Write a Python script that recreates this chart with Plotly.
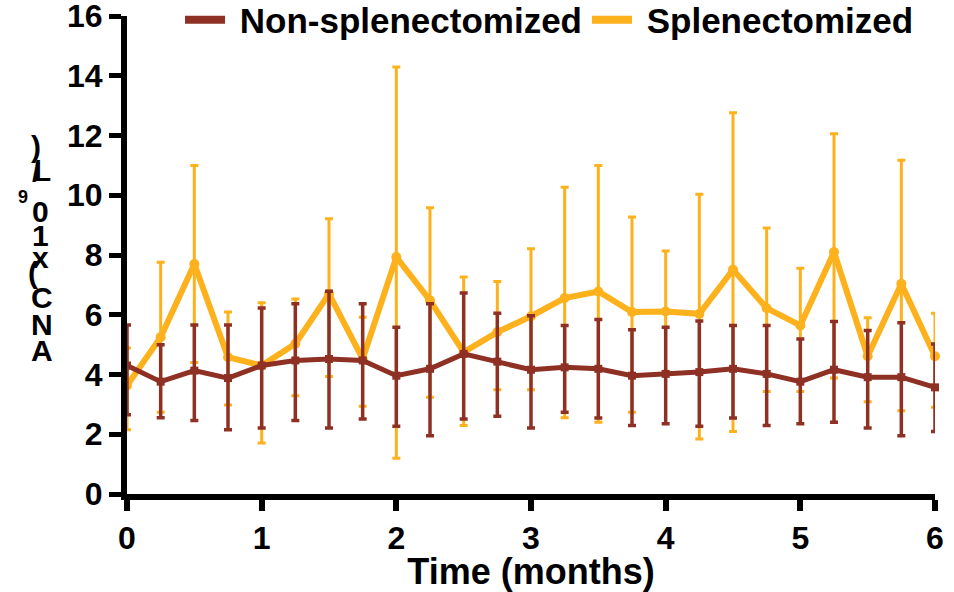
import plotly.graph_objects as go

# ---------------- data ----------------
time_months = [0, 0.25, 0.5, 0.75, 1, 1.25, 1.5, 1.75, 2, 2.25, 2.5, 2.75, 3,
               3.25, 3.5, 3.75, 4, 4.25, 4.5, 4.75, 5, 5.25, 5.5, 5.75, 6]

non_mean = [4.30, 3.76, 4.13, 3.88, 4.30, 4.47, 4.52, 4.47, 3.96, 4.19, 4.69, 4.43, 4.16,
            4.24, 4.19, 3.96, 4.02, 4.08, 4.19, 4.02, 3.76, 4.16, 3.91, 3.91, 3.57]
non_upper = [5.66, 5.00, 5.66, 5.66, 6.23, 6.37, 6.79, 6.37, 5.58, 6.37, 6.73, 6.05, 5.97,
             5.64, 5.84, 5.50, 5.58, 5.79, 5.64, 5.64, 5.19, 5.77, 5.47, 5.73, 5.02]
non_lower = [2.65, 2.55, 2.46, 2.15, 2.21, 2.46, 2.21, 2.51, 2.27, 1.95, 2.51, 2.60, 2.21,
             2.74, 2.54, 2.29, 2.35, 2.27, 2.54, 2.29, 2.35, 2.40, 2.21, 1.95, 2.09]

spl_mean = [3.63, 5.25, 7.70, 4.58, 4.30, 5.03, 6.70, 4.52, 7.93, 6.48, 4.75, 5.42, 5.95,
            6.56, 6.78, 6.09, 6.11, 6.03, 7.51, 6.22, 5.64, 8.10, 4.61, 7.04, 4.61]
spl_upper = [4.89, 7.76, 11.00, 6.09, 6.40, 6.53, 9.21, 5.92, 14.29, 9.58, 7.26, 7.11, 8.21,
             10.27, 11.00, 9.27, 8.13, 10.03, 12.76, 8.90, 7.56, 12.06, 5.90, 11.17, 6.05]
spl_lower = [2.15, 2.74, 4.40, 2.98, 1.71, 3.29, 3.93, 2.94, 1.20, 3.24, 2.29, 3.49, 3.49,
             2.55, 2.40, 2.74, 4.09, 1.84, 2.09, 3.43, 3.43, 3.88, 3.09, 2.79, 2.90]

x_ticks = [0, 1, 2, 3, 4, 5, 6]
y_ticks = [0, 2, 4, 6, 8, 10, 12, 14, 16]

BROWN = "#8E3024"
ORANGE = "#FDB11C"
FONT = "Arial, Liberation Sans, sans-serif"

fig = go.Figure()

def add_series(mean, upper, lower, color, lw, msym, msize, ethick):
    fig.add_trace(go.Scatter(
        x=time_months, y=mean, mode="lines+markers", showlegend=False,
        line=dict(color=color, width=lw),
        marker=dict(color=color, size=msize, symbol=msym),
        error_y=dict(type="data", symmetric=False,
                     array=[u - m for u, m in zip(upper, mean)],
                     arrayminus=[m - l for m, l in zip(mean, lower)],
                     color=color, thickness=ethick, width=4),
        cliponaxis=False,
    ))

# orange drawn first so the brown series sits on top (as in the reference)
add_series(spl_mean, spl_upper, spl_lower, ORANGE, 6, "circle", 10, 3)
add_series(non_mean, non_upper, non_lower, BROWN, 5, "square", 8, 3.5)

# legend entries: plain thick line symbols
for name, color in [("Non-splenectomized", BROWN), ("Splenectomized", ORANGE)]:
    fig.add_trace(go.Scatter(x=[None], y=[None], mode="lines", name="\u00a0" + name,
                             line=dict(color=color, width=8)))

L, R, T, B = 127, 19, 16, 98
W, H = 954, 592
pw, ph = W - L - R, H - T - B

def px(xp):
    return (xp - L) / pw

def py(yp):
    return (H - B - yp) / ph

# stacked y-axis title glyphs (as in the reference rendering)
glyphs = [(")", 36, 146, 30), ("/", 36, 172, 30), ("L", 42, 172, 28), ("9", 23, 197, 18),
          ("0", 40, 211, 30), ("1", 40, 235, 30), ("x", 40, 257, 30), ("(", 33, 272, 30),
          ("C", 42, 297, 30), ("N", 42, 324, 30), ("A", 42, 350, 30)]
annotations = [dict(text=f"<b>{g}</b>", x=px(gx), y=py(gy), xref="paper", yref="paper",
                    showarrow=False, xanchor="center", yanchor="middle",
                    font=dict(family=FONT, size=s, color="black"))
               for g, gx, gy, s in glyphs]

fig.update_layout(
    width=W, height=H,
    margin=dict(l=L, r=R, t=T, b=B, autoexpand=False),
    paper_bgcolor="white", plot_bgcolor="white",
    showlegend=True,
    legend=dict(orientation="h", xref="paper", yref="paper",
                x=px(180), y=py(20), xanchor="left", yanchor="middle",
                font=dict(family=FONT, size=35, color="black", weight="bold"),
                bgcolor="rgba(0,0,0,0)", itemwidth=40, traceorder="normal"),
    annotations=annotations,
    xaxis=dict(range=[0, 6], tickvals=x_ticks, ticktext=[str(v) for v in x_ticks],
               showline=True, linecolor="black", linewidth=6,
               ticks="outside", ticklen=11, tickwidth=6, tickcolor="black",
               showgrid=False, zeroline=False, automargin=False,
               ticklabeloverflow="allow",
               tickfont=dict(family=FONT, size=32, color="black", weight="bold"),
               title=dict(text="Time (months)", standoff=2,
                          font=dict(family=FONT, size=36, color="black", weight="bold"))),
    yaxis=dict(range=[0, 16], tickvals=y_ticks, ticktext=[str(v) for v in y_ticks],
               showline=True, linecolor="black", linewidth=6,
               ticks="outside", ticklen=12, tickwidth=5, tickcolor="black",
               showgrid=False, zeroline=False, automargin=False,
               ticklabeloverflow="allow",
               tickfont=dict(family=FONT, size=32, color="black", weight="bold")),
)

fig.write_html("out.html")
